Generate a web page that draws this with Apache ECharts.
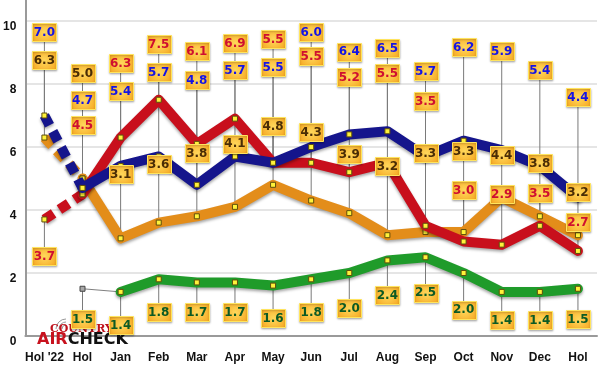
<!DOCTYPE html>
<html>
<head>
<meta charset="utf-8">
<script src="https://cdn.jsdelivr.net/npm/echarts@6/dist/echarts.min.js"></script>
<style>
html,body{margin:0;padding:0;background:#fff;}
#chart{width:600px;height:369px;}
</style>
</head>
<body>
<div id="chart"></div>
<script>
// ---- data ----
const categories = ["Hol '22", "Hol", "Jan", "Feb", "Mar", "Apr", "May", "Jun", "Jul", "Aug", "Sep", "Oct", "Nov", "Dec", "Hol"];
const yTicks = [0, 2, 4, 6, 8, 10];
const blueValues   = [7.0, 4.7, 5.4, 5.7, 4.8, 5.7, 5.5, 6.0, 6.4, 6.5, 5.7, 6.2, 5.9, 5.4, 4.4];
const redValues    = [3.7, 4.5, 6.3, 7.5, 6.1, 6.9, 5.5, 5.5, 5.2, 5.5, 3.5, 3.0, 2.9, 3.5, 2.7];
const orangeValues = [6.3, 5.0, 3.1, 3.6, 3.8, 4.1, 4.8, 4.3, 3.9, 3.2, 3.3, 3.3, 4.4, 3.8, 3.2];
const greenValues  = [null, 1.5, 1.4, 1.8, 1.7, 1.7, 1.6, 1.8, 2.0, 2.4, 2.5, 2.0, 1.4, 1.4, 1.5];

// ---- label placement (value-axis units where each value box sits) ----
const blueLabelAt   = [9.65, 7.49, 7.78, 8.38, 8.13, 8.44, 8.54, 9.65, 9.02, 9.14, 8.41, 9.17, 9.05, 8.44, 7.59];
const redLabelAt    = [2.54, 6.70, 8.67, 9.27, 9.05, 9.30, 9.43, 8.89, 8.22, 8.35, 7.46, 4.63, 4.51, 4.54, 3.62];
const orangeLabelAt = [8.76, 8.35, 5.14, 5.46, 5.81, 6.10, 6.67, 6.48, 5.78, 5.40, 5.81, 5.87, 5.75, 5.49, 4.57];
const greenLabelAt  = [null, 0.54, 0.35, 0.76, 0.76, 0.76, 0.57, 0.76, 0.89, 1.30, 1.37, 0.83, 0.51, 0.51, 0.54];

const seriesDefs = [
  {key: 'orange', values: orangeValues, labelAt: orangeLabelAt, line: '#e38d1a', text: '#4a2d05', z: 3},
  {key: 'red',    values: redValues,    labelAt: redLabelAt,    line: '#c80f1c', text: '#cf0f30', z: 4},
  {key: 'blue',   values: blueValues,   labelAt: blueLabelAt,   line: '#15158c', text: '#1414e6', z: 5},
  {key: 'green',  values: greenValues,  labelAt: greenLabelAt,  line: '#1f9b2a', text: '#0c5a24', z: 5}
];

const chart = echarts.init(document.getElementById('chart'), null, {renderer: 'canvas'});

const symbolStyle = {color: '#fff23a', borderColor: '#5e4e0c', borderWidth: 1};
const lineShadow = {shadowColor: 'rgba(0,0,0,0.35)', shadowBlur: 3, shadowOffsetY: 2};

const series = [];
const labelRows = [];

seriesDefs.forEach((d, si) => {
  d.values.forEach((v, i) => {
    if (v !== null) labelRows.push([i, v, d.labelAt[i], si]);
  });
  if (d.key === 'green') {
    // thin grey connector from the first Hol point to Jan
    series.push({
      type: 'line', z: 4, silent: true,
      data: d.values.map((v, i) => (i <= 2 ? v : null)),
      symbol: 'rect', symbolSize: 5, showSymbol: true,
      itemStyle: {color: '#a8a8a8', borderColor: '#444', borderWidth: 1},
      lineStyle: {color: '#808080', width: 1}
    });
    series.push({
      type: 'line', z: d.z, silent: true,
      data: d.values.map((v, i) => (i >= 2 ? v : null)),
      symbol: 'rect', symbolSize: 5,
      itemStyle: symbolStyle,
      lineStyle: Object.assign({color: d.line, width: 10, cap: 'round', join: 'round'}, lineShadow)
    });
  } else {
    series.push({
      type: 'line', z: d.z, silent: true,
      data: d.values.map((v, i) => (i <= 1 ? v : null)),
      symbol: 'rect', symbolSize: 5,
      itemStyle: symbolStyle,
      lineStyle: Object.assign({color: d.line, width: 10, type: [11, 7], cap: 'butt', join: 'round'}, lineShadow)
    });
    series.push({
      type: 'line', z: d.z, silent: true,
      data: d.values.map((v, i) => (i >= 1 ? v : null)),
      symbol: 'rect', symbolSize: 5,
      itemStyle: symbolStyle,
      lineStyle: Object.assign({color: d.line, width: 10, cap: 'round', join: 'round'}, lineShadow)
    });
  }
});

// leader lines (behind everything)
series.push({
  type: 'custom', z: 1, silent: true,
  data: labelRows,
  encode: {x: 0, y: 1},
  renderItem: function (params, api) {
    const x = api.value(0);
    const p1 = api.coord([x, api.value(1)]);
    const p2 = api.coord([x, api.value(2)]);
    return {
      type: 'line',
      shape: {x1: p1[0], y1: p1[1], x2: p2[0], y2: p2[1]},
      style: {stroke: '#7a7a7a', lineWidth: 1}
    };
  }
});

// value boxes (on top)
series.push({
  type: 'custom', z: 10, silent: true,
  data: labelRows,
  encode: {x: 0, y: 2},
  renderItem: function (params, api) {
    const x = api.value(0);
    const v = api.value(1);
    const d = seriesDefs[api.value(3)];
    const p = api.coord([x, api.value(2)]);
    const w = 24, h = 18;
    return {
      type: 'group',
      children: [
        {
          type: 'rect',
          shape: {x: Math.round(p[0] - w / 2) + 0.5, y: Math.round(p[1] - h / 2) + 0.5, width: w, height: h},
          style: {
            fill: new echarts.graphic.RadialGradient(0.5, 0.5, 0.75, [
              {offset: 0, color: '#ffd85c'},
              {offset: 1, color: '#f6a822'}
            ]),
            stroke: '#ffe45e', lineWidth: 1,
            shadowColor: 'rgba(0,0,0,0.25)', shadowBlur: 2, shadowOffsetY: 1
          }
        },
        {
          type: 'text',
          style: {
            text: v.toFixed(1),
            x: p[0], y: p[1] + 0.5,
            align: 'center', verticalAlign: 'middle',
            fill: d.text,
            font: 'bold 12px "DejaVu Sans", Verdana, sans-serif'
          }
        }
      ]
    };
  }
});

const option = {
  animation: false,
  backgroundColor: '#ffffff',
  grid: {left: 21, right: 3, top: 0, bottom: 33, containLabel: false},
  xAxis: {
    type: 'category',
    data: categories,
    boundaryGap: true,
    axisLine: {lineStyle: {color: '#9a9a9a', width: 2}},
    axisTick: {alignWithLabel: true, inside: true, length: 9, lineStyle: {color: '#9a9a9a', width: 1}},
    axisLabel: {color: '#111', fontWeight: 'bold', fontSize: 12, fontFamily: 'Liberation Sans, Arial, sans-serif', margin: 16, interval: 0},
    splitLine: {show: false}
  },
  yAxis: {
    type: 'value',
    min: yTicks[0],
    max: 336 / 31.5,
    interval: 2,
    axisLine: {show: true, lineStyle: {color: '#9a9a9a', width: 2}},
    axisTick: {show: false},
    axisLabel: {
      color: '#111', fontWeight: 'bold', fontSize: 12, fontFamily: 'Liberation Sans, Arial, sans-serif',
      margin: 9, verticalAlign: 'top',
      formatter: function (val) { return yTicks.indexOf(val) >= 0 ? String(val) : ''; }
    },
    splitLine: {lineStyle: {color: ['#dcdcdc', '#dcdcdc', '#dcdcdc', '#dcdcdc', '#dcdcdc', '#dcdcdc', 'rgba(0,0,0,0)'], width: 1.5}}
  },
  graphic: [
    {type: 'arc', z: 1, shape: {cx: 66, cy: 329, r: 4, startAngle: Math.PI, endAngle: Math.PI * 1.5}, style: {stroke: '#9a9a9a', lineWidth: 1, fill: null}},
    {type: 'arc', z: 1, shape: {cx: 66, cy: 329, r: 7, startAngle: Math.PI, endAngle: Math.PI * 1.5}, style: {stroke: '#9a9a9a', lineWidth: 1, fill: null}},
    {type: 'arc', z: 1, shape: {cx: 66, cy: 329, r: 10, startAngle: Math.PI, endAngle: Math.PI * 1.5}, style: {stroke: '#9a9a9a', lineWidth: 1, fill: null}},
    {type: 'text', z: 2, left: 50, top: 324, style: {text: 'COUNTRY', fill: '#c0121c', font: 'bold 11px "DejaVu Serif", serif'}},
    {type: 'text', z: 2, left: 37, top: 332, style: {
      text: '{a|AIR}{b|CHECK}',
      rich: {
        a: {fill: '#c8121e', font: 'bold 16px "DejaVu Sans", sans-serif'},
        b: {fill: '#111111', font: 'bold 16px "DejaVu Sans", sans-serif'}
      }
    }}
  ],
  series: series
};

chart.setOption(option);
</script>
</body>
</html>
